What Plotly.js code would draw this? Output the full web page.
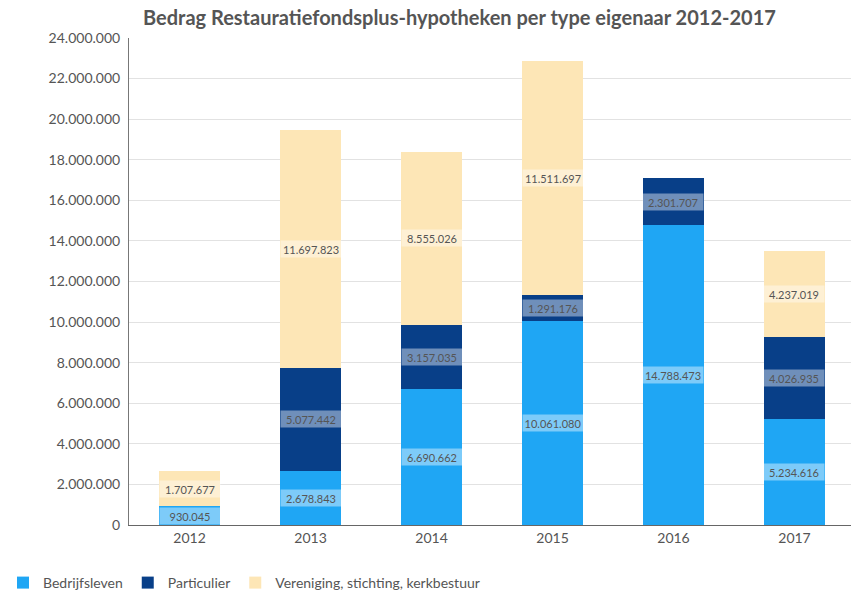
<!DOCTYPE html>
<html>
<head>
<meta charset="utf-8">
<script src="https://cdn.plot.ly/plotly-3.0.1.min.js"></script>
<style>html,body{margin:0;padding:0;background:#fff}#chart{width:851px;height:597px}</style>
</head>
<body>
<div id="chart"></div>
<script>
const years = ['2012', '2013', '2014', '2015', '2016', '2017'];
const bedrijfsleven = [930045, 2678843, 6690662, 10061080, 14788473, 5234616];
const particulier = [0, 5077442, 3157035, 1291176, 2301707, 4026935];
const vereniging = [1707677, 11697823, 8555026, 11511697, 0, 4237019];
const seriesNames = ['Bedrijfsleven', 'Particulier', 'Vereniging, stichting, kerkbestuur'];
const seriesColors = ['#1fa6f4', '#083f88', '#fde6b6'];
const yTicks = [0, 2000000, 4000000, 6000000, 8000000, 10000000, 12000000, 14000000, 16000000, 18000000, 20000000, 22000000, 24000000];

function fmt(v) {
  return String(v).replace(/\B(?=(\d{3})+(?!\d))/g, '.');
}

const allSeries = [bedrijfsleven, particulier, vereniging];
const traces = allSeries.map((vals, i) => ({
  type: 'bar',
  name: seriesNames[i],
  x: years,
  y: vals,
  marker: {color: seriesColors[i]},
  hoverinfo: 'none'
}));

const annotations = [];
years.forEach((yr, j) => {
  let base = 0;
  allSeries.forEach((vals) => {
    const v = vals[j];
    if (v > 0) {
      annotations.push({
        x: j, y: base + v / 2, xref: 'x', yref: 'y',
        text: fmt(v), showarrow: false,
        font: {family: 'Lato, sans-serif', size: 11, color: '#555'},
        bgcolor: 'rgba(255,255,255,0.42)',
        width: 58, height: 14, borderpad: 1
      });
    }
    base += v;
  });
});

const layout = {
  width: 851, height: 597,
  barmode: 'stack',
  bargap: 0.5,
  separators: ',.',
  paper_bgcolor: '#fff', plot_bgcolor: '#fff',
  margin: {l: 129, r: 0, t: 38, b: 72},
  font: {family: 'Lato, sans-serif', color: '#555'},
  title: {
    text: '<b>Bedrag Restauratiefondsplus-hypotheken per type eigenaar 2012-2017</b>',
    x: 143 / 851, xanchor: 'left', xref: 'container', y: 1 - 18 / 597, yanchor: 'middle', yref: 'container',
    font: {family: 'Lato, sans-serif', size: 20, color: '#555'}
  },
  xaxis: {
    type: 'category',
    range: [-0.5, 5.467],
    showgrid: false,
    showline: true, linecolor: '#666', linewidth: 1,
    ticks: '', tickfont: {size: 14, color: '#555'},
    fixedrange: true
  },
  yaxis: {
    range: [0, 24000000],
    tickvals: yTicks,
    tickformat: ',d',
    showgrid: true, gridcolor: '#e2e2e2', gridwidth: 1,
    showline: true, linecolor: '#777', linewidth: 1,
    zeroline: false,
    ticks: '', ticklen: 0, ticklabelstandoff: 5,
    tickfont: {size: 14, color: '#555'},
    fixedrange: true
  },
  legend: {
    orientation: 'h', x: 3 / 851, xanchor: 'left', xref: 'container',
    y: 1 - 567 / 597, yanchor: 'top', yref: 'container',
    font: {size: 14, color: '#555'},
    itemwidth: 30, traceorder: 'normal'
  },
  annotations: annotations,
  showlegend: true
};

Plotly.newPlot('chart', traces, layout, {displayModeBar: false, staticPlot: true});
</script>
</body>
</html>
